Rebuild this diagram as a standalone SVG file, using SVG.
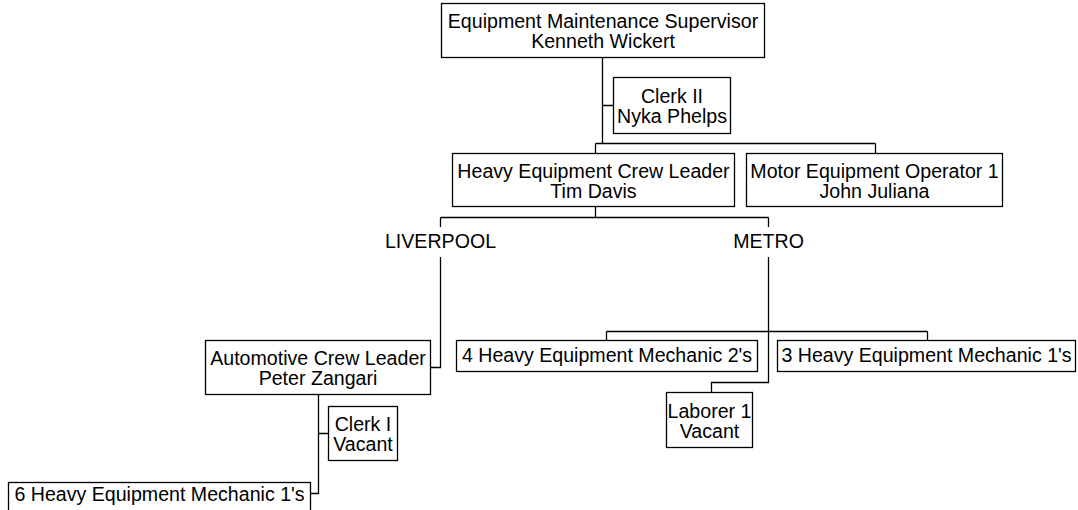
<svg xmlns="http://www.w3.org/2000/svg" width="1078" height="510" viewBox="0 0 1078 510">
<style>
  .box { fill: #fff; stroke: #000; stroke-width: 1.3; }
  .lbl { font-family: "Liberation Sans", Arial, sans-serif; font-size: 19.6px; fill: #000; text-anchor: middle; }
  .conn { fill: none; stroke: #000; stroke-width: 1.3; }
</style>
<rect width="1078" height="510" fill="#fff"/>
<g id="connectors" class="conn">
  <path d="M602.5 57.5 V143.5 M602.5 105.5 H613.5"/>
  <path d="M595.5 143.5 H875.5 M595.5 143.5 V153.5 M875.5 143.5 V153.5"/>
  <path d="M595.5 206.5 V217.5 M440.5 217.5 H768.5 M440.5 217.5 V227 M768.5 217.5 V227"/>
  <path d="M440.5 257 V367.5 H430.5"/>
  <path d="M318.5 394.5 V493.5 H310.5 M318.5 433.5 H328.5"/>
  <path d="M768.5 257 V382.5 H711.5 V392.5"/>
  <path d="M606.5 331.5 H927.5 M606.5 331.5 V340.5 M927.5 331.5 V340.5"/>
</g>
<g id="supervisor">
  <rect class="box" x="441.5" y="3.5" width="323" height="54"/>
  <text class="lbl" x="603" y="27.5">Equipment Maintenance Supervisor</text>
  <text class="lbl" x="603" y="47.5">Kenneth Wickert</text>
</g>
<g id="clerk2">
  <rect class="box" x="613.5" y="77.5" width="117" height="56"/>
  <text class="lbl" x="672" y="103">Clerk II</text>
  <text class="lbl" x="672" y="123">Nyka Phelps</text>
</g>
<g id="crewleader">
  <rect class="box" x="452.5" y="153.5" width="282" height="53"/>
  <text class="lbl" x="593.5" y="177.5">Heavy Equipment Crew Leader</text>
  <text class="lbl" x="593.5" y="197.5">Tim Davis</text>
</g>
<g id="operator">
  <rect class="box" x="746.5" y="153.5" width="256" height="53"/>
  <text class="lbl" x="874.5" y="177.5">Motor Equipment Operator 1</text>
  <text class="lbl" x="874.5" y="197.5">John Juliana</text>
</g>
<g id="liverpool">
  <text class="lbl" x="440.5" y="248">LIVERPOOL</text>
</g>
<g id="metro">
  <text class="lbl" x="768.5" y="248">METRO</text>
</g>
<g id="automotive">
  <rect class="box" x="205.5" y="340.5" width="225" height="54"/>
  <text class="lbl" x="318" y="365">Automotive Crew Leader</text>
  <text class="lbl" x="318" y="385">Peter Zangari</text>
</g>
<g id="clerk1">
  <rect class="box" x="328.5" y="406.5" width="69" height="54"/>
  <text class="lbl" x="363" y="431">Clerk I</text>
  <text class="lbl" x="363" y="451">Vacant</text>
</g>
<g id="mech6">
  <rect class="box" x="8.5" y="482.5" width="302" height="33"/>
  <text class="lbl" x="159.5" y="501">6 Heavy Equipment Mechanic 1's</text>
</g>
<g id="mech4">
  <rect class="box" x="456.5" y="340.5" width="301" height="31"/>
  <text class="lbl" x="607" y="362">4 Heavy Equipment Mechanic 2's</text>
</g>
<g id="mech3">
  <rect class="box" x="777.5" y="340.5" width="298" height="31"/>
  <text class="lbl" x="926.5" y="362">3 Heavy Equipment Mechanic 1's</text>
</g>
<g id="laborer">
  <rect class="box" x="666.5" y="392.5" width="86" height="55"/>
  <text class="lbl" x="709.5" y="417.5">Laborer 1</text>
  <text class="lbl" x="709.5" y="437.5">Vacant</text>
</g>
</svg>
